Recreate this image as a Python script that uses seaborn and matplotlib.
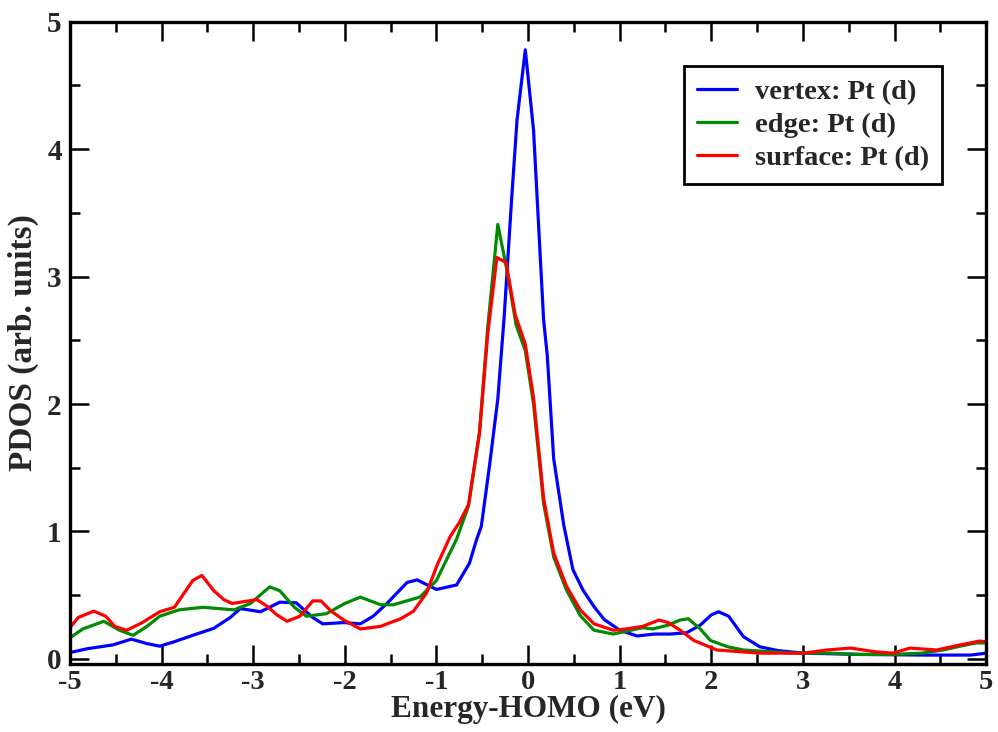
import pandas as pd
import matplotlib.pyplot as plt
import seaborn as sns

# PDOS curves (energy relative to HOMO, eV)
vertex_e = [-5.0, -4.81, -4.53, -4.33, -4.16, -4.02, -3.86, -3.66, -3.43, -3.25, -3.14, -2.92, -2.71,
            -2.53, -2.35, -2.24, -2.01, -1.83, -1.69, -1.54, -1.32, -1.21, -1.0, -0.78, -0.64, -0.56,
            -0.51, -0.42, -0.33, -0.26, -0.18, -0.12, -0.03, 0.06, 0.17, 0.21, 0.28, 0.39, 0.49, 0.60,
            0.72, 0.83, 1.0, 1.19, 1.38, 1.55, 1.73, 1.88, 2.0, 2.08, 2.19, 2.35, 2.53, 2.73, 3.01,
            3.62, 4.35, 4.83, 5.0]
vertex_pdos = [0.05, 0.08, 0.11, 0.155, 0.12, 0.10, 0.135, 0.185, 0.24, 0.325, 0.395, 0.37, 0.445,
               0.44, 0.325, 0.275, 0.285, 0.275, 0.335, 0.435, 0.60, 0.62, 0.545, 0.58, 0.75, 0.94,
               1.04, 1.52, 2.04, 2.69, 3.6, 4.23, 4.78, 4.15, 2.66, 2.38, 1.57, 1.05, 0.70, 0.54,
               0.41, 0.31, 0.225, 0.18, 0.195, 0.195, 0.205, 0.265, 0.345, 0.37, 0.335, 0.175, 0.095,
               0.065, 0.045, 0.035, 0.03, 0.03, 0.045]

edge_e = [-5.0, -4.86, -4.63, -4.46, -4.31, -4.16, -4.02, -3.81, -3.55, -3.21, -3.03, -2.82, -2.71,
          -2.55, -2.42, -2.2, -2.0, -1.83, -1.61, -1.47, -1.18, -1.0, -0.78, -0.65, -0.53, -0.44,
          -0.33, -0.23, -0.13, -0.03, 0.06, 0.17, 0.28, 0.42, 0.57, 0.72, 0.93, 1.25, 1.36, 1.53,
          1.66, 1.75, 1.88, 1.99, 2.18, 2.35, 2.89, 3.29, 3.62, 3.98, 4.3, 4.53, 4.75, 4.89, 5.0]
edge_pdos = [0.165, 0.235, 0.295, 0.225, 0.185, 0.255, 0.335, 0.385, 0.405, 0.385, 0.435, 0.565,
             0.535, 0.405, 0.335, 0.355, 0.435, 0.485, 0.425, 0.425, 0.485, 0.615, 0.94, 1.2, 1.78,
             2.6, 3.41, 3.05, 2.62, 2.42, 2.0, 1.22, 0.80, 0.54, 0.34, 0.225, 0.195, 0.245, 0.235,
             0.265, 0.305, 0.315, 0.235, 0.145, 0.095, 0.07, 0.045, 0.045, 0.035, 0.035, 0.045,
             0.07, 0.105, 0.125, 0.125]

surface_e = [-5.0, -4.91, -4.74, -4.61, -4.51, -4.38, -4.21, -4.02, -3.86, -3.66, -3.56, -3.43, -3.32,
             -3.23, -2.96, -2.85, -2.74, -2.63, -2.49, -2.35, -2.26, -2.15, -2.01, -1.83, -1.61, -1.54,
             -1.39, -1.25, -1.11, -0.99, -0.85, -0.75, -0.65, -0.53, -0.44, -0.34, -0.24, -0.14, -0.03,
             0.06, 0.17, 0.28, 0.42, 0.57, 0.72, 0.93, 1.07, 1.25, 1.43, 1.53, 1.66, 1.81, 2.06, 2.53,
             3.01, 3.26, 3.52, 3.80, 3.98, 4.17, 4.46, 4.72, 4.93, 5.0]
surface_pdos = [0.245, 0.325, 0.375, 0.335, 0.255, 0.225, 0.285, 0.37, 0.405, 0.615, 0.655, 0.535,
                0.465, 0.435, 0.465, 0.415, 0.345, 0.295, 0.335, 0.455, 0.455, 0.375, 0.305, 0.235,
                0.255, 0.275, 0.315, 0.375, 0.515, 0.74, 0.96, 1.07, 1.21, 1.77, 2.55, 3.15, 3.11,
                2.70, 2.47, 2.05, 1.26, 0.83, 0.57, 0.385, 0.275, 0.225, 0.235, 0.255, 0.305, 0.285,
                0.225, 0.145, 0.07, 0.045, 0.045, 0.07, 0.085, 0.055, 0.045, 0.085, 0.07, 0.11, 0.14,
                0.135]

labels = ["vertex: Pt (d)", "edge: Pt (d)", "surface: Pt (d)"]
colors = ["#0000ff", "#008b00", "#ff0000"]

data = pd.concat([
    pd.DataFrame({"energy": vertex_e, "pdos": vertex_pdos, "site": labels[0]}),
    pd.DataFrame({"energy": edge_e, "pdos": edge_pdos, "site": labels[1]}),
    pd.DataFrame({"energy": surface_e, "pdos": surface_pdos, "site": labels[2]}),
])

sns.set_style("ticks")
plt.rcParams["font.family"] = ["Liberation Serif", "DejaVu Serif"]
plt.rcParams["font.weight"] = "bold"
plt.rcParams["axes.unicode_minus"] = False

fig = plt.figure(figsize=(9.98, 7.32), dpi=100)
ax = fig.add_axes([0.0701, 0.0929, 0.918, 0.8774])

sns.lineplot(data=data, x="energy", y="pdos", hue="site", hue_order=labels,
             palette=dict(zip(labels, colors)), estimator=None, sort=False,
             linewidth=2.3, ax=ax)

ax.set_xlim(-5, 5)
ax.set_ylim(-0.04, 5)
ax.set_xticks(range(-5, 6))
ax.set_yticks(range(0, 6))
ax.set_xticks([x + 0.5 for x in range(-5, 5)], minor=True)
ax.set_yticks([y + 0.5 for y in range(0, 5)], minor=True)
ax.tick_params(which="both", direction="in", top=True, right=True, width=1.8, color="black")
ax.tick_params(which="major", length=14, labelsize=21, pad=6)
ax.tick_params(which="minor", length=7)
ax.tick_params(axis="x", which="major", labelsize=20.5, pad=4)
for lab in ax.get_xticklabels() + ax.get_yticklabels():
    lab.set_fontweight("bold")
for sp in ax.spines.values():
    sp.set_linewidth(2.4)
    sp.set_color("black")

ax.set_xlabel("Energy-HOMO (eV)", fontsize=22.5, fontweight="bold", labelpad=0)
ax.set_ylabel("PDOS (arb. units)", fontsize=24, fontweight="bold", labelpad=6)

leg = ax.legend(loc="upper right", bbox_to_anchor=(0.952, 0.931), borderaxespad=0,
                fancybox=False, framealpha=1, edgecolor="black", fontsize=20.5,
                handlelength=1.4, handletextpad=0.65, labelspacing=0.25,
                borderpad=0.45, title=None)
leg.get_frame().set_linewidth(2.0)
for t in leg.get_texts():
    t.set_fontweight("bold")
for h in leg.get_lines():
    h.set_linewidth(2.3)

fig.savefig("out.png", dpi=100)
